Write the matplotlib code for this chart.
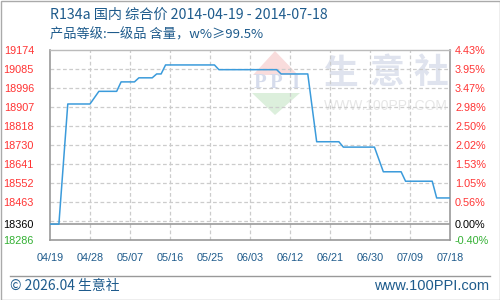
import matplotlib
matplotlib.use("Agg")
import matplotlib.pyplot as plt
from matplotlib.patches import Polygon, Rectangle
from matplotlib.lines import Line2D
import numpy as np
import pandas as pd

# ---- data ----
dates = ["2014-04-19", "2014-04-21", "2014-04-23", "2014-04-28", "2014-04-30",
         "2014-05-04", "2014-05-05", "2014-05-08", "2014-05-09", "2014-05-12",
         "2014-05-13", "2014-05-14", "2014-05-15", "2014-05-26", "2014-05-27",
         "2014-06-09", "2014-06-10", "2014-06-16", "2014-06-18", "2014-06-23",
         "2014-06-24", "2014-07-01", "2014-07-03", "2014-07-07", "2014-07-08",
         "2014-07-14", "2014-07-15", "2014-07-18"]
prices = [18360, 18360, 18920, 18920, 18979,
          18979, 19023, 19023, 19042, 19042,
          19060, 19060, 19102, 19102, 19080,
          19080, 19060, 19060, 18744, 18744,
          18719, 18719, 18604, 18604, 18560,
          18560, 18482, 18482]

base_price = 18360
left_ticks = [19174, 19085, 18996, 18907, 18818, 18730, 18641, 18552, 18463, 18360, 18286]
right_labels = ["4.43%", "3.95%", "3.47%", "2.98%", "2.50%", "2.02%", "1.53%",
                "1.05%", "0.56%", "0.00%", "-0.40%"]
x_tick_labels = ["04/19", "04/28", "05/07", "05/16", "05/25", "06/03",
                 "06/12", "06/21", "06/30", "07/09", "07/18"]

title1 = "R134a 国内 综合价 2014-04-19 - 2014-07-18"
title2 = "产品等级:一级品 含量，w%≥99.5%"
footer_left = "© 2026.04 生意社"
footer_right = "www.100PPI.com"

# ---- styling ----
RED = "#ff3333"
GREEN = "#33b033"
BLUE_TXT = "#1e5b8c"
LINE = "#3b9bdb"
GRID = "#cccccc"
SPINE = "#999999"
CJK = ["Noto Sans CJK SC", "DejaVu Sans"]
NUM = ["Liberation Sans", "DejaVu Sans"]

fig = plt.figure(figsize=(5, 3), dpi=100)
fig.patch.set_facecolor("white")

# background decoration layer (pixel coordinates)
bg = fig.add_axes([0, 0, 1, 1], zorder=0)
bg.set_xlim(0, 500)
bg.set_ylim(300, 0)
bg.axis("off")
bg.add_patch(Rectangle((0.5, 0.5), 499, 299, fill=False, edgecolor="#aaaaaa", lw=1))
bg.add_line(Line2D([10, 490], [275.5, 275.5], color="#999999", lw=1))

ax = fig.add_axes([0.1, 0.2, 0.8, 0.635], zorder=2)
ax.patch.set_alpha(0)

# watermark (behind the plot)
wm = fig.add_axes([0, 0, 1, 1], zorder=1)
wm.set_xlim(0, 500)
wm.set_ylim(300, 0)
wm.axis("off")
wm.add_patch(Polygon([[275, 51], [253, 75], [298, 75]], closed=True,
                     facecolor="#f9dcdc", edgecolor="none"))
wm.add_patch(Polygon([[252, 93], [300, 93], [275, 115]], closed=True,
                     facecolor="#dcefdc", edgecolor="none"))
for ch, xc in zip("PPI", [260, 276.5, 295]):
    wm.text(xc, 83.5, ch, ha="center", va="center", fontsize=15, color="#d6dcec",
            family=["Liberation Serif", "DejaVu Serif"], fontweight="bold")
for ch, xc in zip("生意社", [341, 387, 431]):
    wm.text(xc, 73, ch, ha="center", va="center", fontsize=25, color="#dfe3ee",
            family=CJK, fontweight="bold")
wm.text(386, 106, "WWW.100PPI.COM", ha="center", va="center", fontsize=10,
        color="#e6e6e6", family=NUM)

# data
x = pd.to_datetime(dates)
ax.plot(x, prices, color=LINE, lw=1.1, zorder=3)

start = pd.Timestamp(dates[0])
end = pd.Timestamp(dates[-1])
ax.set_xlim(start, end)
ax.set_ylim(left_ticks[-1], left_ticks[0])

xt = pd.date_range(start, end, freq="9D")
ax.set_xticks(xt)
ax.set_xticklabels(x_tick_labels)

ax.set_yticks(left_ticks)
ax.set_yticklabels([str(v) for v in left_ticks])

# grid
for xv in xt[1:-1]:
    ax.axvline(xv, color=GRID, lw=0.9, ls=(0, (3, 2)), zorder=1)
for yv in np.linspace(left_ticks[-1], left_ticks[0], 11)[1:-1]:
    ax.axhline(yv, color=GRID, lw=0.9, ls=(0, (3, 2)), zorder=1)
ax.axhline(base_price, color="#999999", lw=1.2, zorder=2)

for s in ["left", "bottom", "right"]:
    ax.spines[s].set_color(SPINE)
    ax.spines[s].set_linewidth(1.2)
ax.spines["top"].set_color("#bbbbbb")
ax.spines["top"].set_linewidth(1.0)

ax.tick_params(axis="both", length=0)
ax.tick_params(axis="y", pad=11.5)
ax.tick_params(axis="x", pad=9.5)
for lbl, v in zip(ax.get_yticklabels(), left_ticks):
    lbl.set_fontfamily(NUM)
    lbl.set_fontsize(7.8)
    lbl.set_color(RED if v > base_price else ("black" if v == base_price else GREEN))
for lbl in ax.get_xticklabels():
    lbl.set_fontfamily(NUM)
    lbl.set_fontsize(7.8)
    lbl.set_color(BLUE_TXT)

ax2 = ax.twinx()
ax2.set_ylim(ax.get_ylim())
ax2.set_yticks(left_ticks)
ax2.set_yticklabels(right_labels)
ax2.tick_params(axis="y", length=0, pad=3.6)
for s in ax2.spines.values():
    s.set_visible(False)
for lbl, v in zip(ax2.get_yticklabels(), left_ticks):
    lbl.set_fontfamily(NUM)
    lbl.set_fontsize(7.8)
    lbl.set_color(RED if v > base_price else ("black" if v == base_price else GREEN))

# titles and footer
fig.text(50 / 500, 1 - 15 / 300, title1, ha="left", va="center", fontsize=10.2,
         color=BLUE_TXT, family=CJK)
fig.text(50 / 500, 1 - 35 / 300, title2, ha="left", va="center", fontsize=9.5,
         color=BLUE_TXT, family=CJK)
fig.text(10 / 500, 1 - 286 / 300, footer_left, ha="left", va="center", fontsize=10,
         color=BLUE_TXT, family=CJK)
fig.text(489 / 500, 1 - 286 / 300, footer_right, ha="right", va="center", fontsize=10.5,
         color=BLUE_TXT, family=NUM)

fig.savefig("out.png", dpi=100)
